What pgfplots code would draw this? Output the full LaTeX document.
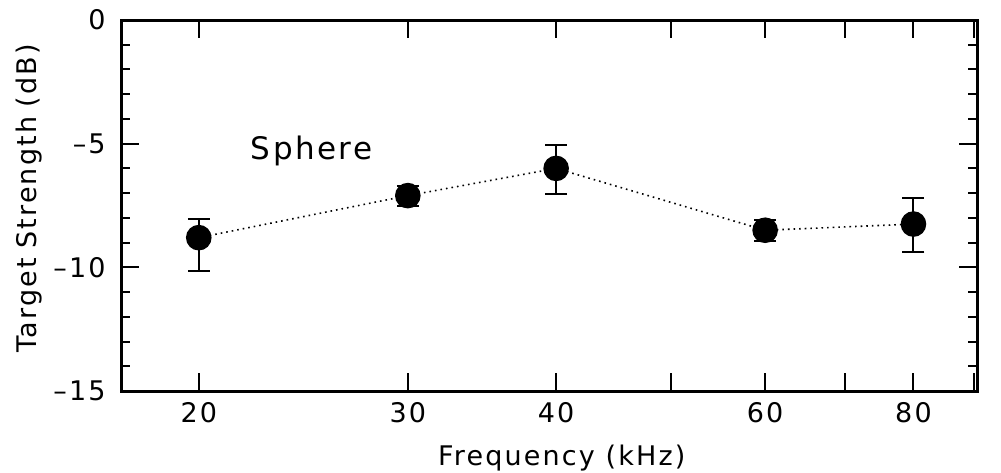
\documentclass[border=0pt]{standalone}
\usepackage{fontspec}
\setmainfont{DejaVu Sans}[LetterSpace=8]
\usepackage{pgfplots}
\pgfplotsset{compat=1.18}
\begin{document}
\fontsize{13.5}{15}\selectfont
\begin{tikzpicture}
\begin{axis}[
  name=ax,
  scale only axis,
  width=428pt, height=185.5pt,
  xmode=log,
  xmin=17.2, xmax=90.5,
  ymin=-15, ymax=0,
  xtick={20,30,40,50,60,70,80,90},
  xticklabels={20,30,40,,60,,80,},
  ytick={-15,-10,-5,0},
  yticklabels={–15,–10,–5,0},
  minor ytick={-14,-13,-12,-11,-9,-8,-7,-6,-4,-3,-2,-1},
  minor xtick={},
  major tick length=9pt,
  minor tick length=4.5pt,
  tick style={line width=1pt, black},
  axis line style={line width=1.5pt},
  tick align=inside,
  xtick pos=both, ytick pos=both,
  yticklabel style={xshift=-3pt},
  xticklabel style={yshift=-1pt},
  xlabel={Frequency (kHz)},
  ylabel={Target\hspace{0.35em}Strength\hspace{0.35em}(dB)},
  xlabel style={at={(axis description cs:0.515,-0.18)}, anchor=center},
  ylabel style={at={(axis description cs:-0.108,0.52)}, anchor=center},
  clip=false,
]
\addplot[black, dotted, line width=0.8pt,
  mark=*, mark size=6pt, mark options={solid, fill=black},
  error bars/.cd, y dir=both, y explicit,
  error bar style={line width=1pt, solid},
  error mark options={rotate=90, mark size=5.5pt, line width=1pt, solid}]
  coordinates {
  (20,-8.8) += (0,0.75) -= (0,1.35)
  (30,-7.1) += (0,0.4) -= (0,0.42)
  (40,-6.0) += (0,0.95) -= (0,1.05)
  (60,-8.5) += (0,0.4) -= (0,0.42)
  (80,-8.25) += (0,1.05) -= (0,1.13)
  };
\node[font=\fontsize{15.5}{17}\selectfont] at (axis cs:24.9,-5.3) {Sphere};
\end{axis}
\pgfresetboundingbox
\path[use as bounding box] ([xshift=-60.5pt,yshift=-40.5pt]ax.south west) rectangle ([xshift=12pt,yshift=10pt]ax.north east);
\end{tikzpicture}
\end{document}
